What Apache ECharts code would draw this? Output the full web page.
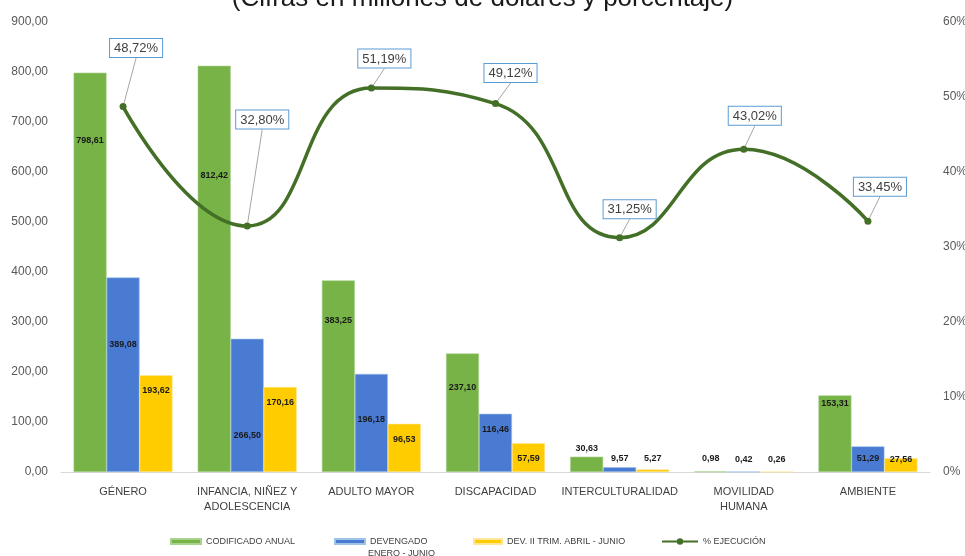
<!DOCTYPE html>
<html>
<head>
<meta charset="utf-8">
<script src="https://cdn.jsdelivr.net/npm/echarts@6/dist/echarts.min.js"></script>
<style>html,body{margin:0;padding:0;background:#fff}#c{width:965px;height:556px}</style>
</head>
<body>
<div id="c"></div>
<script>
const categories = ['GÉNERO', 'INFANCIA, NIÑEZ Y\nADOLESCENCIA', 'ADULTO MAYOR', 'DISCAPACIDAD', 'INTERCULTURALIDAD', 'MOVILIDAD\nHUMANA', 'AMBIENTE'];
const codificado = [798.61, 812.42, 383.25, 237.10, 30.63, 0.98, 153.31];
const devengado = [389.08, 266.50, 196.18, 116.46, 9.57, 0.42, 51.29];
const devTrim = [193.62, 170.16, 96.53, 57.59, 5.27, 0.26, 27.56];
const ejecucion = [48.72, 32.80, 51.19, 49.12, 31.25, 43.02, 33.45];
const leftTicks = [0, 900, 100];
const rightTicks = [0, 60, 10];

// label placement (styling only): vertical offset of label center from bar top
const codLabelDy = [68, 110, 41, 35, -8, -12, 9];
const devLabelDy = [68, 97, 46, 16, -8, -12, 13];
const trimLabelDy = [16, 16, 16, 16, -10, -12, 2];
const pctLabelShift = [[13, -41], [15, -89], [13, -12], [15, -13], [10, -11], [11, -16], [12, -17]];

const fmt2 = v => v.toFixed(2).replace('.', ',');
const FONT = 'Liberation Sans';

function barData(vals, dys) {
  return vals.map((v, i) => ({
    value: v,
    label: { position: 'insideTop', offset: [0, dys[i] - 10] }
  }));
}
const barLabel = {
  show: true, fontSize: 9, fontWeight: 'bold', color: '#1a1a1a', fontFamily: FONT,
  formatter: p => fmt2(p.value)
};
const legendText = { fontSize: 9, color: '#404040', fontFamily: FONT };

const chart = echarts.init(document.getElementById('c'));
chart.setOption({
  animation: false,
  title: {
    text: '(Cifras en millones de dólares y porcentaje)',
    left: 'center', top: -19,
    textStyle: { fontSize: 26, fontWeight: 'normal', color: '#1a1a1a', fontFamily: FONT }
  },
  grid: { left: 61, right: 35, top: 22, bottom: 84, outerBoundsMode: 'none' },
  legend: [
    { data: ['CODIFICADO ANUAL'], left: 170, top: 537, padding: 0, icon: 'rect', itemWidth: 30, itemHeight: 5, textStyle: legendText },
    { data: ['DEVENGADO'], left: 334, top: 537, padding: 0, icon: 'rect', itemWidth: 30, itemHeight: 5, textStyle: legendText },
    { data: ['DEV. II TRIM. ABRIL - JUNIO'], left: 473, top: 537, padding: 0, icon: 'rect', itemWidth: 28, itemHeight: 5, textStyle: legendText },
    { data: ['% EJECUCIÓN'], left: 661, top: 537, padding: 0, itemWidth: 36, itemHeight: 8, textStyle: legendText }
  ],
  graphic: [{ type: 'text', left: 368, top: 549, style: { text: 'ENERO - JUNIO', fontSize: 9, fill: '#404040', fontFamily: FONT } }],
  xAxis: {
    type: 'category', data: categories,
    axisLine: { lineStyle: { color: '#d9d9d9' } },
    axisTick: { show: false },
    axisLabel: { fontSize: 11, color: '#404040', fontFamily: FONT, margin: 12, lineHeight: 15, interval: 0 }
  },
  yAxis: [
    { type: 'value', min: leftTicks[0], max: leftTicks[1], interval: leftTicks[2],
      splitLine: { show: false }, axisLine: { show: false }, axisTick: { show: false },
      axisLabel: { fontSize: 12, color: '#595959', fontFamily: FONT, margin: 13, formatter: v => fmt2(v) } },
    { type: 'value', min: rightTicks[0], max: rightTicks[1], interval: rightTicks[2],
      splitLine: { show: false }, axisLine: { show: false }, axisTick: { show: false },
      axisLabel: { fontSize: 12, color: '#595959', fontFamily: FONT, margin: 13, formatter: v => v + '%' } }
  ],
  series: [
    { name: 'CODIFICADO ANUAL', type: 'bar', data: barData(codificado, codLabelDy), barWidth: 33, barGap: '0%',
      itemStyle: { color: '#77b347', borderColor: '#a9d18e', borderWidth: 0.6 }, label: barLabel },
    { name: 'DEVENGADO', type: 'bar', data: barData(devengado, devLabelDy), barWidth: 33, barGap: '0%',
      itemStyle: { color: '#4a7bd2', borderColor: '#9dc3e6', borderWidth: 0.6 }, label: barLabel },
    { name: 'DEV. II TRIM. ABRIL - JUNIO', type: 'bar', data: barData(devTrim, trimLabelDy), barWidth: 33, barGap: '0%',
      itemStyle: { color: '#ffcc00', borderColor: '#ffe699', borderWidth: 0.6 }, label: barLabel },
    { name: '% EJECUCIÓN', type: 'line', yAxisIndex: 1, data: ejecucion, smooth: 0.5, z: 5,
      symbol: 'circle', symbolSize: 7,
      lineStyle: { color: '#436f27', width: 3.5 },
      itemStyle: { color: '#436f27' },
      label: {
        show: true, position: 'top', formatter: p => fmt2(p.value) + '%',
        fontSize: 13, color: '#404040', fontFamily: FONT,
        backgroundColor: '#fff', borderColor: '#5b9bd5', borderWidth: 1, padding: [3, 4, 2, 4]
      },
      labelLine: { show: true, lineStyle: { color: '#a6a6a6', width: 1 } },
      labelLayout: p => ({ dx: pctLabelShift[p.dataIndex][0], dy: pctLabelShift[p.dataIndex][1] })
    }
  ]
});
</script>
</body>
</html>
